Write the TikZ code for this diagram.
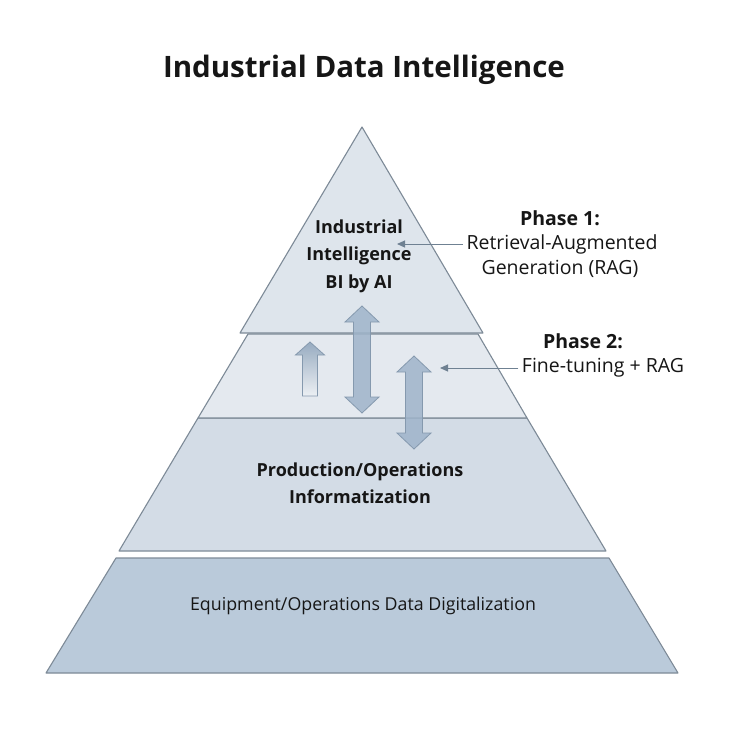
\documentclass[tikz,border=0pt]{standalone}
\usepackage{fontspec}
\setmainfont{Open Sans}
\usetikzlibrary{arrows.meta,positioning}
\definecolor{edgegray}{HTML}{7D8A97}
\definecolor{tierone}{HTML}{DEE5EC}
\definecolor{tiertwo}{HTML}{E4E9EF}
\definecolor{tierthree}{HTML}{D3DCE6}
\definecolor{tierfour}{HTML}{BACADA}
\definecolor{arrowblue}{HTML}{9FB4CA}
\definecolor{arrowedge}{HTML}{8599AE}
\definecolor{inkblack}{HTML}{161616}
\definecolor{notegray}{HTML}{6F8192}

% fat double arrow: x, top tip, bottom tip
\newcommand{\dblarrow}[3]{%
  \draw[blockarrow] (#1,#2) -- (#1+17,#2+16) -- (#1+8.5,#2+16) -- (#1+8.5,#3-16)
    -- (#1+17,#3-16) -- (#1,#3) -- (#1-17,#3-16) -- (#1-8.5,#3-16)
    -- (#1-8.5,#2+16) -- (#1-17,#2+16) -- cycle;}

\begin{document}
\begin{tikzpicture}[x=1pt,y=-1pt,
    every node/.style={align=center,text=inkblack},
    tier/.style={draw=edgegray, line width=1.1pt, line join=round},
    blockarrow/.style={fill=arrowblue, fill opacity=0.85, draw=arrowedge, line width=0.8pt},
    notearrow/.style={draw=notegray, line width=1pt, -{Triangle[length=8pt,width=7pt]}},
    tiertext/.style={font=\fontsize{18}{27.5}\selectfont\bfseries},
    sidetext/.style={font=\fontsize{19.5}{25}\selectfont},
    sidehead/.style={font=\fontsize{19.5}{25}\selectfont\bfseries}]
  \useasboundingbox (0,0) rectangle (740,740);
  \fill[white] (0,0) rectangle (740,740);

  % pyramid tiers, bottom up
  \draw[tier, fill=tierfour]  (46,673) -- (678,673) -- (609,558) -- (116,558) -- cycle;
  \draw[tier, fill=tierthree] (119,551) -- (606,551) -- (527,418) -- (198,418) -- cycle;
  \draw[tier, fill=tiertwo]   (198,418) -- (527,418) -- (478,334) -- (248,334) -- cycle;
  \draw[tier, fill=tierone]   (240,333) -- (483,333) -- (362,127) -- cycle;

  % arrows between tiers
  \shade[top color=arrowblue!95!black, bottom color=tiertwo!70!white, draw=arrowedge, line width=0.8pt]
    (310,342) -- (324.5,355) -- (317.5,355) -- (317.5,396) -- (302.5,396) -- (302.5,355) -- (295.5,355) -- cycle;
  \dblarrow{362}{306}{413}
  \dblarrow{414}{356}{449}

  \node[font=\fontsize{29.5}{36}\selectfont\bfseries] (title) at (364,70) {Industrial Data Intelligence};

  \node[tiertext] (apex) at (359,256) {Industrial\\Intelligence\\BI by AI};
  \node[tiertext] (production) at (360,483) {Production/Operations\\Informatization};
  \node[font=\fontsize{17.8}{20}\selectfont] (equipment) at (363,606) {Equipment/Operations Data Digitalization};

  \node[sidehead] (phaseone) at (560,218) {Phase 1:};
  \node[sidetext] (retrieval) at (562,244) {Retrieval-Augmented};
  \node[sidetext] (generation) at (560,269) {Generation (RAG)};
  \node[sidehead] (phasetwo) at (583,341) {Phase 2:};
  \node[sidetext] (finetune) at (603,368) {Fine-tuning + RAG};

  \coordinate (tipone) at (397,244);
  \coordinate (tiptwo) at (440,368);
  \draw[notearrow] (retrieval.west) -- (tipone);
  \draw[notearrow] (finetune.west) -- (tiptwo);
\end{tikzpicture}
\end{document}
